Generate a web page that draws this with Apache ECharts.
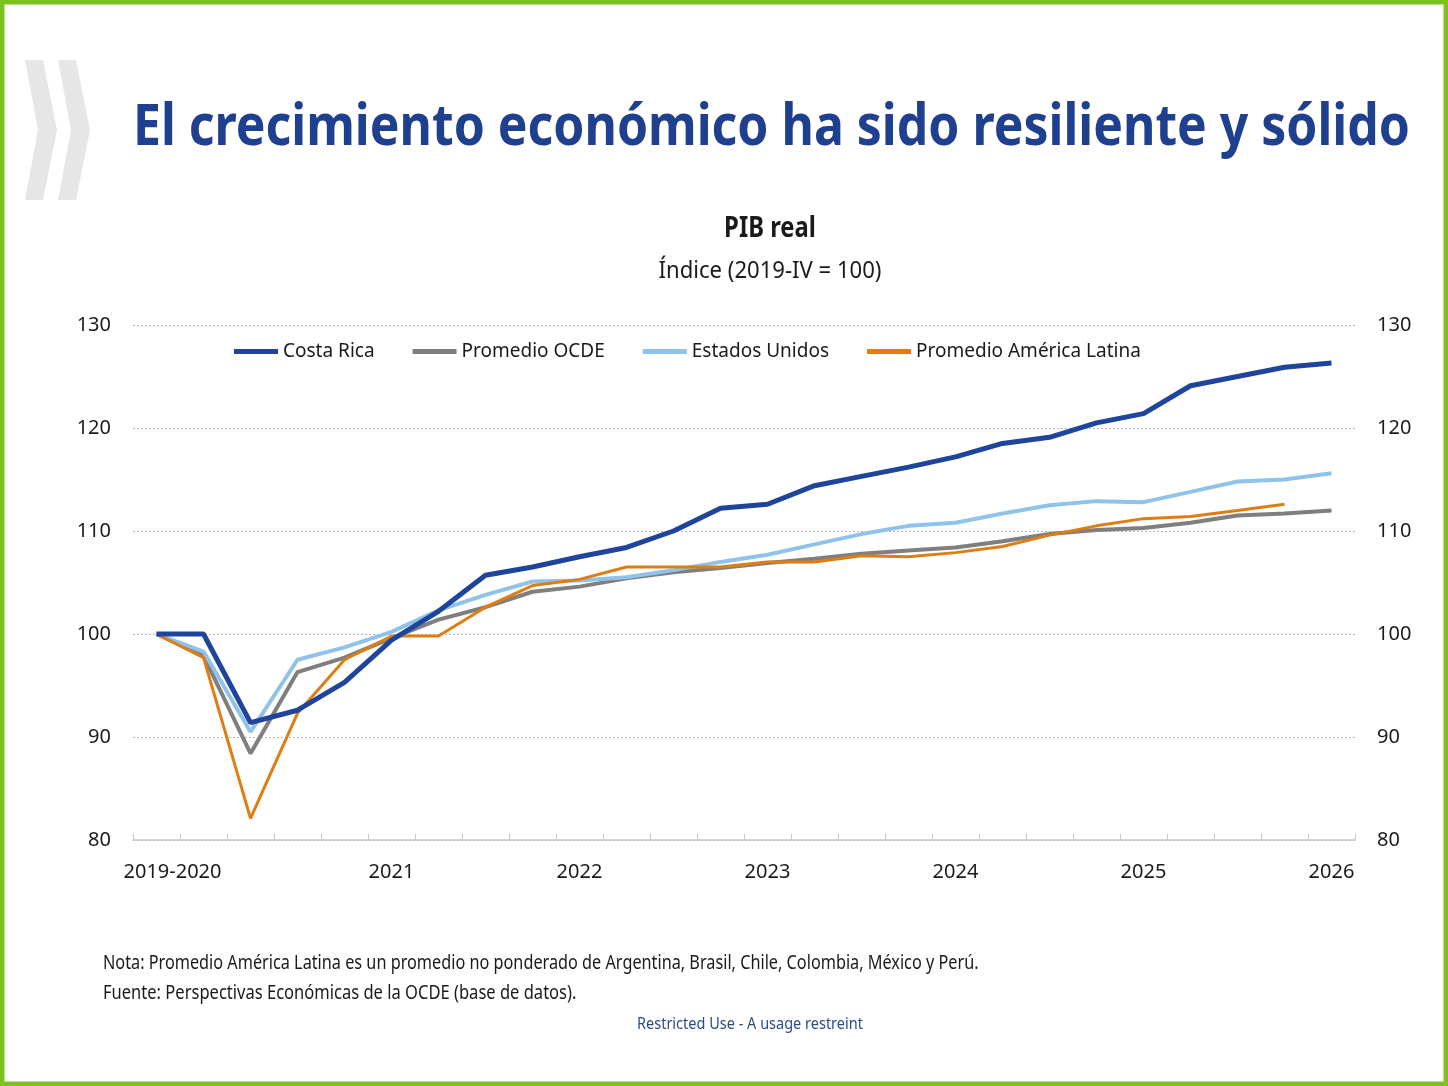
<!DOCTYPE html>
<html>
<head>
<meta charset="utf-8">
<script src="https://cdn.jsdelivr.net/npm/echarts@6/dist/echarts.min.js"></script>
<style>
  html, body { margin: 0; padding: 0; background: #fff; }
  #chart { width: 1448px; height: 1086px; }
</style>
</head>
<body>
<div id="chart"></div>
<script>
// quarters 2019-IV .. 2026-I
const quarters = [
  '2019-IV', '2020-I', '2020-II', '2020-III', '2020-IV',
  '2021-I', '2021-II', '2021-III', '2021-IV',
  '2022-I', '2022-II', '2022-III', '2022-IV',
  '2023-I', '2023-II', '2023-III', '2023-IV',
  '2024-I', '2024-II', '2024-III', '2024-IV',
  '2025-I', '2025-II', '2025-III', '2025-IV',
  '2026-I'
];
// label shown under each quarter ('' = none)
const xTickLabels = [
  '2019-2020', '', '', '', '',
  '2021', '', '', '',
  '2022', '', '', '',
  '2023', '', '', '',
  '2024', '', '', '',
  '2025', '', '', '',
  '2026'
];

const costaRica = [100, 100, 91.4, 92.6, 95.3, 99.4, 102.2, 105.7, 106.5, 107.5, 108.4, 110.0, 112.2,
  112.6, 114.4, 115.3, 116.2, 117.2, 118.5, 119.1, 120.5, 121.4, 124.1, 125.0, 125.9, 126.3];
const promedioOCDE = [100, 97.9, 88.4, 96.3, 97.7, 99.6, 101.4, 102.6, 104.1, 104.6, 105.4, 106.0, 106.4,
  106.9, 107.3, 107.8, 108.1, 108.4, 109.0, 109.7, 110.1, 110.3, 110.8, 111.5, 111.7, 112.0];
const estadosUnidos = [100, 98.3, 90.5, 97.5, 98.7, 100.2, 102.3, 103.8, 105.1, 105.2, 105.5, 106.2, 107.0,
  107.7, 108.7, 109.7, 110.5, 110.8, 111.7, 112.5, 112.9, 112.8, 113.8, 114.8, 115.0, 115.6];
const promedioAL = [100, 97.7, 82.1, 92.3, 97.5, 99.8, 99.8, 102.6, 104.7, 105.3, 106.5, 106.5, 106.5,
  107.0, 107.0, 107.6, 107.5, 107.9, 108.5, 109.6, 110.5, 111.2, 111.4, 112.0, 112.6];

const font = "'Noto Sans', sans-serif";
const axisText = { color: '#1a1a1a', fontSize: 20, fontFamily: font };

// narrow text: scaled horizontally to get the condensed look of the slide font
function label(text, x, y, size, opts) {
  opts = opts || {};
  return {
    type: 'text', x: x, y: y, scaleX: opts.scaleX || 0.85, silent: true,
    style: {
      x: 0, y: 0, text: text,
      fill: opts.color || '#1a1a1a',
      font: (opts.bold ? 'bold ' : '') + size + 'px ' + font,
      textAlign: opts.align || 'left', textVerticalAlign: 'top',
    },
  };
}

const chart = echarts.init(document.getElementById('chart'));

const yAxisBase = {
  type: 'value',
  min: 80,
  max: 130,
  interval: 10,
  axisLine: { show: false },
  axisTick: { show: false },
  splitLine: { lineStyle: { color: '#b8b8b8', type: [2, 2], width: 1 } },
};

const option = {
  backgroundColor: '#ffffff',
  animation: false,
  legend: {
    left: 229, top: 337,
    itemWidth: 44, itemHeight: 5, itemGap: 38,
    icon: 'rect',
    textStyle: { color: '#1a1a1a', fontSize: 19, fontFamily: font },
    data: ['Costa Rica', 'Promedio OCDE', 'Estados Unidos', 'Promedio América Latina'],
  },
  grid: { left: 133, right: 93, top: 325, bottom: 246, containLabel: false },
  xAxis: {
    type: 'category',
    data: quarters,
    boundaryGap: true,
    axisLine: { lineStyle: { color: '#c8c8c8', width: 1.5 } },
    axisTick: { show: true, inside: true, length: 6, interval: 0, lineStyle: { color: '#c8c8c8' } },
    axisLabel: {
      interval: 0,
      margin: 22,
      formatter: (v, i) => (i === 0 ? '{first|' + xTickLabels[i] + '}' : xTickLabels[i]),
      rich: { first: { ...axisText, padding: [0, 0, 0, 32] } },
      ...axisText,
    },
  },
  yAxis: [
    { ...yAxisBase, position: 'left', axisLabel: { ...axisText, margin: 22 } },
    { ...yAxisBase, position: 'right', splitLine: { show: false }, axisLabel: { ...axisText, margin: 22 } },
  ],
  series: [
    {
      name: 'Costa Rica', type: 'line', data: costaRica,
      symbol: 'none', lineStyle: { color: '#1f449c', width: 5 }, itemStyle: { color: '#1f449c' },
      z: 5,
    },
    {
      name: 'Promedio OCDE', type: 'line', data: promedioOCDE,
      symbol: 'none', lineStyle: { color: '#7f7f7f', width: 4 }, itemStyle: { color: '#7f7f7f' },
      z: 2,
    },
    {
      name: 'Estados Unidos', type: 'line', data: estadosUnidos,
      symbol: 'none', lineStyle: { color: '#8fc3ea', width: 4 }, itemStyle: { color: '#8fc3ea' },
      z: 3,
    },
    {
      name: 'Promedio América Latina', type: 'line', data: promedioAL,
      symbol: 'none', lineStyle: { color: '#e07d12', width: 3 }, itemStyle: { color: '#e07d12' },
      z: 4,
    },
  ],
  graphic: [
    {
      type: 'rect', silent: true,
      shape: { x: 2, y: 2, width: 1444, height: 1082 },
      style: { fill: 'none', stroke: '#7dc21e', lineWidth: 5 },
    },
    {
      type: 'polygon', silent: true,
      shape: { points: [[25, 60], [43, 60], [57, 130], [43, 200], [25, 200], [38, 130]] },
      style: { fill: '#e6e6e6' },
    },
    {
      type: 'polygon', silent: true,
      shape: { points: [[58, 60], [76, 60], [90, 130], [76, 200], [58, 200], [71, 130]] },
      style: { fill: '#e6e6e6' },
    },
    label('El crecimiento económico ha sido resiliente y sólido', 133, 99, 58,
      { bold: true, color: '#1f3f8f', scaleX: 0.86 }),
    label('PIB real', 770, 215, 28, { bold: true, align: 'center', scaleX: 0.85 }),
    label('Índice (2019-IV = 100)', 770, 259, 24, { align: 'center', scaleX: 0.92 }),
    label('Nota: Promedio América Latina es un promedio no ponderado de Argentina, Brasil, Chile, Colombia, México y Perú.',
      103, 954, 19, { scaleX: 0.855 }),
    label('Fuente: Perspectivas Económicas de la OCDE (base de datos).', 103, 984, 19, { scaleX: 0.87 }),
    label('Restricted Use - A usage restreint', 637, 1016, 17, { color: '#2b4a8c', scaleX: 0.853 }),
  ],
};

chart.setOption(option);
</script>
</body>
</html>
